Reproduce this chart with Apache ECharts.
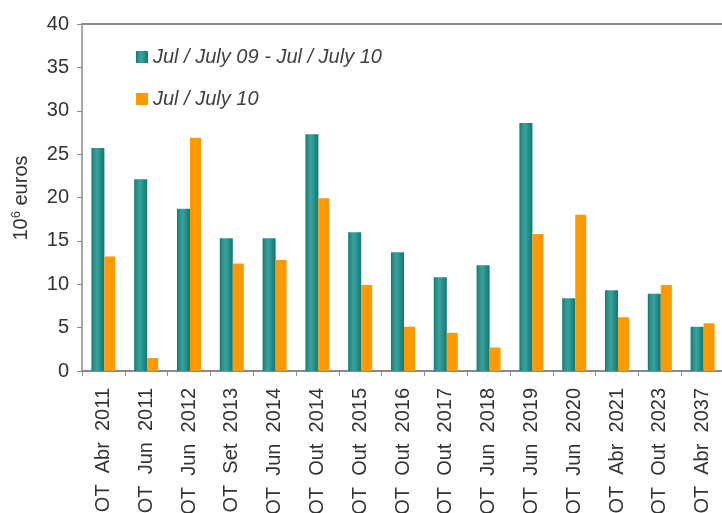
<!DOCTYPE html>
<html>
<head>
<meta charset="utf-8">
<script src="https://cdn.jsdelivr.net/npm/echarts@6/dist/echarts.min.js"></script>
<style>
  html, body { margin: 0; padding: 0; background: #fff; }
  #chart { width: 722px; height: 513px; }
</style>
</head>
<body>
<div id="chart"></div>
<script>
// categorias (linhas OT)
var categories = ['OT Abr 2011', 'OT Jun 2011', 'OT Jun 2012', 'OT Set 2013', 'OT Jun 2014',
    'OT Out 2014', 'OT Out 2015', 'OT Out 2016', 'OT Out 2017', 'OT Jun 2018',
    'OT Jun 2019', 'OT Jun 2020', 'OT Abr 2021', 'OT Out 2023', 'OT Abr 2037'];
// Jul 09 - Jul 10
var valuesPeriod = [25.7, 22.1, 18.7, 15.3, 15.3, 27.3, 16.0, 13.7, 10.8, 12.2, 28.6, 8.4, 9.3, 8.9, 5.1];
// Jul 10
var valuesJul10 = [13.2, 1.5, 26.9, 12.4, 12.8, 19.9, 9.9, 5.1, 4.4, 2.7, 15.8, 18.0, 6.2, 9.9, 5.5];
var seriesNames = ['Jul / July 09 - Jul / July 10', 'Jul / July 10'];

var myChart = echarts.init(document.getElementById('chart'));

var tealGrad = new echarts.graphic.LinearGradient(0, 0, 1, 0, [
    {offset: 0, color: '#0c7a75'},
    {offset: 0.2, color: '#2b928d'},
    {offset: 0.45, color: '#3ca09b'},
    {offset: 0.8, color: '#1b8782'},
    {offset: 1, color: '#0c7a75'}
]);

var axisGrey = '#8a8a8a';
var txt = '#333333';

var option = {
    animation: false,
    backgroundColor: '#ffffff',
    textStyle: {fontFamily: 'Liberation Sans, Arial, sans-serif'},
    grid: {left: 82, top: 24, width: 642, height: 347, containLabel: false, outerBoundsMode: 'none'},
    legend: {
        orient: 'vertical',
        left: 131,
        top: 42,
        itemWidth: 12,
        itemHeight: 12,
        itemGap: 22,
        icon: 'rect',
        data: seriesNames,
        textStyle: {fontSize: 20, fontStyle: 'italic', color: '#404040'}
    },
    xAxis: [{
        type: 'category',
        data: categories,
        axisLine: {lineStyle: {color: axisGrey, width: 2}},
        axisTick: {show: true, length: 5, lineStyle: {color: axisGrey, width: 1}},
        axisLabel: {
            rotate: 90, fontSize: 20, color: txt, margin: 17, interval: 0,
            // espaçamento largo entre palavras como no original
            formatter: function (v) { return v.split(' ').join('  '); }
        }
    }, {
        type: 'category',
        position: 'top',
        data: categories,
        axisLine: {lineStyle: {color: axisGrey, width: 2}},
        axisTick: {show: false},
        axisLabel: {show: false}
    }],
    yAxis: {
        type: 'value',
        min: 0,
        max: 40,
        interval: 5,
        splitLine: {show: false},
        axisLine: {show: true, lineStyle: {color: axisGrey, width: 1.5}},
        axisTick: {show: true, length: 5, lineStyle: {color: axisGrey}},
        axisLabel: {fontSize: 20, color: txt, margin: 13}
    },
    graphic: [{
        type: 'text',
        x: 21,
        y: 198,
        rotation: Math.PI / 2,
        style: {
            text: '{a|10}{b|6}{a| euros}',
            align: 'center',
            verticalAlign: 'middle',
            rich: {
                a: {fontSize: 20, fill: txt, fontFamily: 'Liberation Sans'},
                b: {fontSize: 13, fill: txt, fontFamily: 'Liberation Sans', verticalAlign: 'top', padding: [0, 0, 9, 0]}
            }
        }
    }],
    series: [{
        name: seriesNames[0],
        type: 'bar',
        barWidth: 13,
        barGap: '0%',
        itemStyle: {color: tealGrad},
        data: valuesPeriod
    }, {
        name: seriesNames[1],
        type: 'bar',
        barWidth: 11,
        barGap: '0%',
        itemStyle: {color: '#ff9900'},
        data: valuesJul10
    }]
};

myChart.setOption(option);
</script>
</body>
</html>
